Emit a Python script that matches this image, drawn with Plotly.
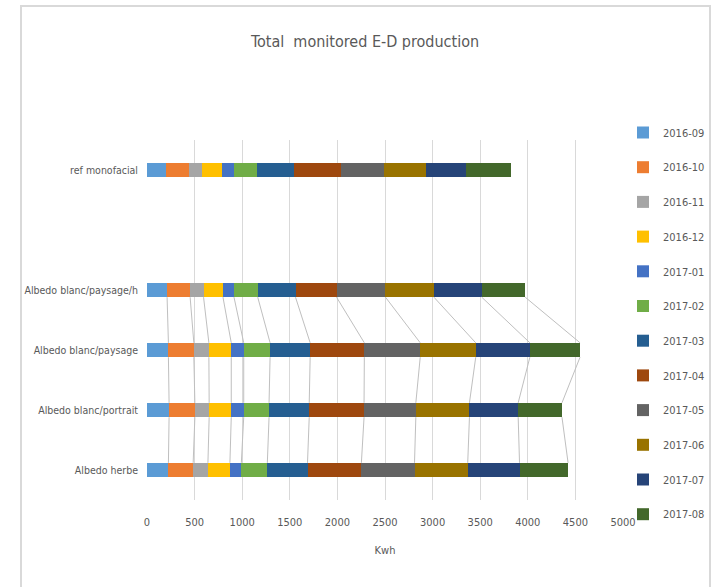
import plotly.graph_objects as go

categories = ["Albedo herbe", "Albedo blanc/portrait", "Albedo blanc/paysage",
              "Albedo blanc/paysage/h", "", "ref monofacial"]
months = ["2016-09", "2016-10", "2016-11", "2016-12", "2017-01", "2017-02",
          "2017-03", "2017-04", "2017-05", "2017-06", "2017-07", "2017-08"]
colors = ["#5B9BD5", "#ED7D31", "#A5A5A5", "#FFC000", "#4472C4", "#70AD47",
          "#255E91", "#9E480E", "#636363", "#997300", "#264478", "#43682B"]

# kWh per month for each category (row order = categories)
albedo_herbe = [225, 260, 155, 231, 120, 273, 422, 566, 558, 559, 544, 510]
albedo_portrait = [232, 271, 150, 232, 131, 266, 422, 576, 544, 563, 512, 460]
albedo_paysage = [225, 267, 158, 235, 131, 277, 421, 569, 587, 583, 569, 527]
albedo_paysage_h = [211, 242, 141, 204, 116, 249, 397, 431, 514, 509, 502, 457]
empty_row = [None] * 12
ref_monofacial = [204, 239, 137, 210, 124, 242, 387, 498, 446, 447, 417, 471]

rows = [albedo_herbe, albedo_portrait, albedo_paysage, albedo_paysage_h, empty_row, ref_monofacial]
ypos = list(range(len(categories)))
bar_w = 0.24
txt = "#595959"
font_fam = "DejaVu Sans Condensed, Liberation Sans Narrow, Liberation Sans, sans-serif"

W, H = 717, 587
PL, PR, PT, PB = 147, 623, 140, 500  # plot area in pixels

fig = go.Figure()

# series lines (Excel-style) between adjacent bars
cums = []
for r in rows:
    if r[0] is None:
        cums.append(None)
        continue
    c, acc = [], 0
    for v in r:
        acc += v
        c.append(acc)
    cums.append(c)
lx, ly = [], []
for i in range(len(rows) - 1):
    if cums[i] is None or cums[i + 1] is None:
        continue
    for k in range(12):
        lx += [cums[i][k], cums[i + 1][k], None]
        ly += [ypos[i] + bar_w / 2, ypos[i + 1] - bar_w / 2, None]
fig.add_trace(go.Scatter(x=lx, y=ly, mode="lines", line=dict(color="#BFBFBF", width=1),
                         showlegend=False, hoverinfo="skip"))

for m, (name, col) in enumerate(zip(months, colors)):
    fig.add_trace(go.Bar(
        y=ypos, x=[r[m] for r in rows], name=name, orientation="h",
        marker=dict(color=col, line=dict(width=0)), width=bar_w,
        legendgroup=name,
    ))

fig.update_layout(
    barmode="stack",
    width=W, height=H,
    margin=dict(l=0, r=0, t=0, b=0, autoexpand=False),
    paper_bgcolor="white", plot_bgcolor="white",
    font=dict(family=font_fam, size=11, color=txt),
    title=dict(text="Total  monitored E-D production", x=365 / W, xanchor="center",
               y=1 - 41 / H, yanchor="middle",
               font=dict(family=font_fam, size=16, color=txt)),
    xaxis=dict(domain=[PL / W, PR / W], range=[0, 5000], tickvals=list(range(0, 5001, 500)),
               showgrid=True, gridcolor="#D9D9D9", gridwidth=1, zeroline=False,
               showline=False, ticks="", ticklabelstandoff=14, tickfont=dict(size=11, color=txt),
               title=dict(text="Kwh", font=dict(size=11, color=txt), standoff=18)),
    yaxis=dict(domain=[1 - PB / H, 1 - PT / H], range=[-0.5, 5.5], tickvals=ypos, ticktext=categories,
               showgrid=False, zeroline=False, showline=False, ticks="",
               ticklabelstandoff=8, tickfont=dict(size=10.5, color=txt)),
    legend=dict(x=623 / W, y=1 - 118 / H, xanchor="left", yanchor="top",
                font=dict(size=11, color=txt), tracegroupgap=15.7,
                itemwidth=30, bgcolor="rgba(0,0,0,0)"),
    bargap=0,
    shapes=[dict(type="rect", xref="paper", yref="paper",
                 x0=21 / W, x1=710 / W, y0=-0.01, y1=1 - 6 / H,
                 line=dict(color="#D9D9D9", width=2), fillcolor="rgba(0,0,0,0)", layer="below")],
)

fig.write_html("out.html")
